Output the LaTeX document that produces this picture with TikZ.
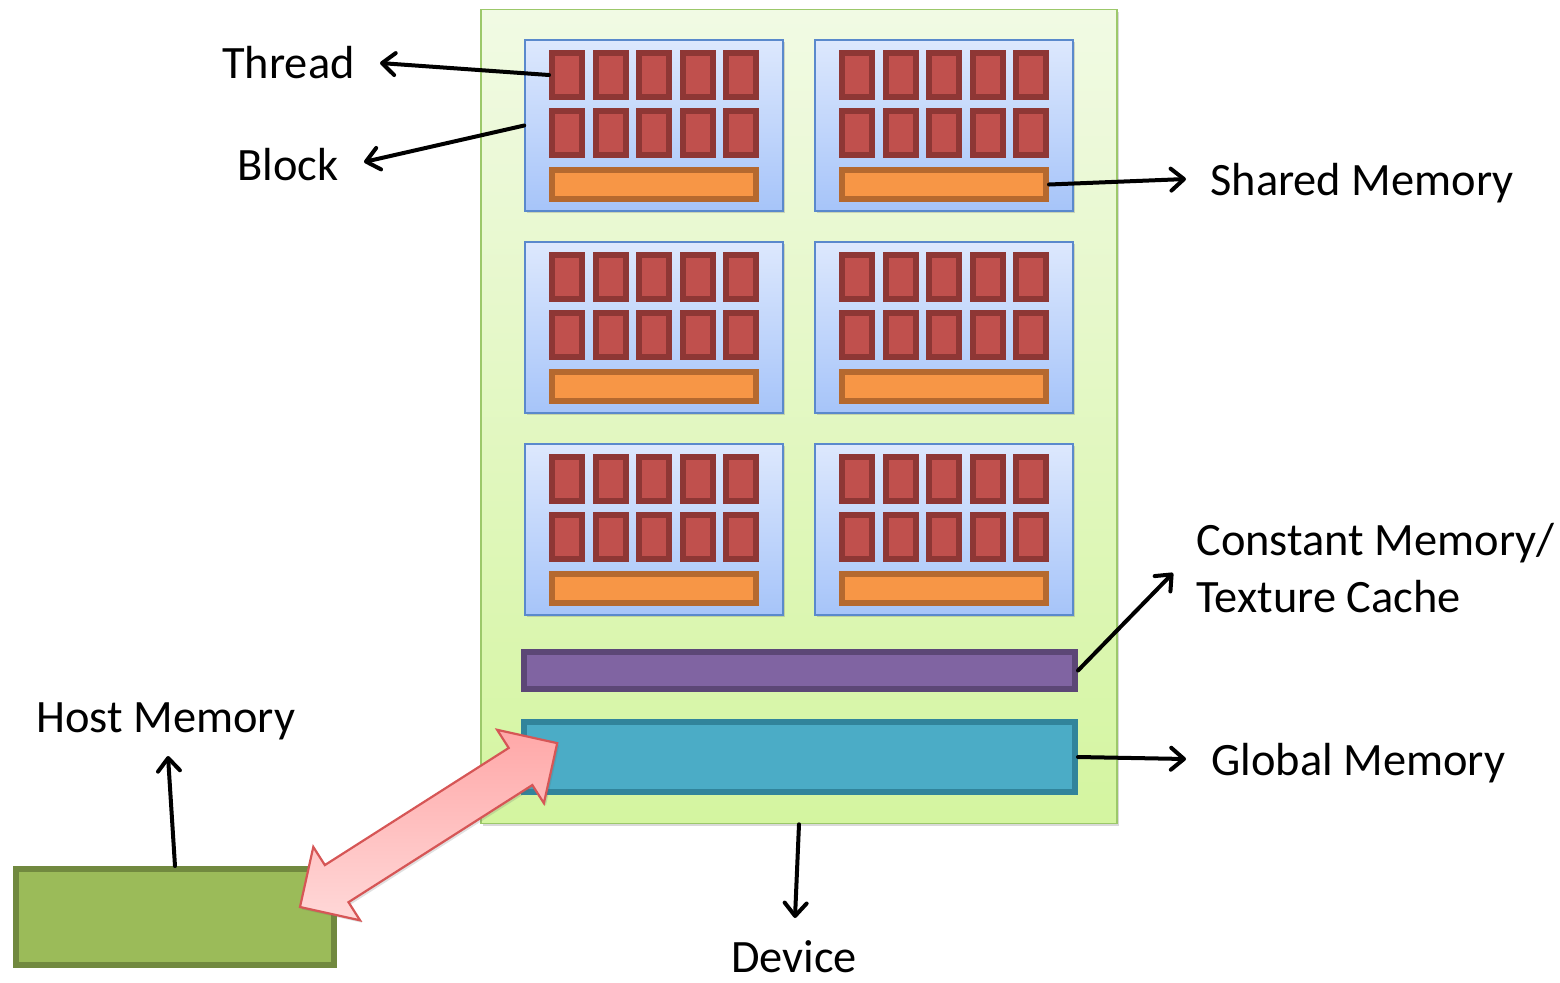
\documentclass[tikz,border=0pt]{standalone}
\usepackage{fontspec}
\setmainfont{Carlito}
\usetikzlibrary{arrows.meta,shadows}

% palette
\definecolor{frameTop}{HTML}{F1FAE4}
\definecolor{frameBot}{HTML}{D4F5A0}
\definecolor{frameLine}{HTML}{9CC86A}
\definecolor{blkTop}{HTML}{DDE8FD}
\definecolor{blkBot}{HTML}{A6C4F9}
\definecolor{blkLine}{HTML}{5A89CC}
\definecolor{thrFill}{HTML}{C0504D}
\definecolor{thrLine}{HTML}{8E3735}
\definecolor{shmFill}{HTML}{F79646}
\definecolor{shmLine}{HTML}{B5692F}
\definecolor{cstFill}{HTML}{8064A2}
\definecolor{cstLine}{HTML}{5C4776}
\definecolor{glbFill}{HTML}{4BACC6}
\definecolor{glbLine}{HTML}{31849B}
\definecolor{hstFill}{HTML}{9BBB59}
\definecolor{hstLine}{HTML}{71893F}
\definecolor{pinkTop}{HTML}{FFA8A8}
\definecolor{pinkBot}{HTML}{FFD8D8}
\definecolor{pinkLine}{HTML}{D65656}

\begin{document}
\begin{tikzpicture}[x=0.5pt,y=-0.5pt,
  softshadow/.style={drop shadow={shadow xshift=1pt,shadow yshift=-1.2pt,opacity=0.25,fill=black!60}},
  lbl/.style={font=\fontsize{23.2}{28.5}\selectfont, inner sep=0pt, text=black},
  ptr/.style={line width=2pt, line cap=round, -{Straight Barb[length=6.5pt,width=11pt,round]}},
  devframe/.style={draw=frameLine, line width=0.8pt, top color=frameTop, bottom color=frameBot,
    minimum width=318pt, minimum height=407pt, inner sep=0pt, softshadow},
  blockbox/.style={draw=blkLine, line width=0.8pt, top color=blkTop, bottom color=blkBot,
    minimum width=129pt, minimum height=85.5pt, inner sep=0pt, softshadow},
  cell/.style={draw=thrLine, fill=thrFill, line width=3pt, minimum width=15pt,
    minimum height=22pt, inner sep=0pt},
  shmbar/.style={draw=shmLine, fill=shmFill, line width=3pt, minimum width=102pt,
    minimum height=14.5pt, inner sep=0pt},
  membar/.style={line width=3pt, minimum width=275.5pt, inner sep=0pt, softshadow}
]
\useasboundingbox (0,0) rectangle (1560,982);

% device frame
\node[devframe] (dev) at (799,416.5) {};

% blocks of threads with their shared memory
\foreach \r in {1,2,3} {
  \foreach \c in {1,2} {
    \pgfmathsetmacro\xo{524+290*(\c-1)}
    \pgfmathsetmacro\yo{39+202*(\r-1)}
    \node[blockbox] (b-\r-\c) at (\xo+130,\yo+86.5) {};
    \foreach \j in {1,2} {
      \foreach \i in {1,...,5} {
        \node[cell] (t-\r-\c-\j-\i) at ({\xo+43+43.5*(\i-1)},{\yo+36+58*(\j-1)}) {};
      }
    }
    \node[shmbar] (sm-\r-\c) at (\xo+130,\yo+145.5) {};
  }
}

% constant memory / texture cache and global memory
\node[membar, draw=cstLine, fill=cstFill, minimum height=18.5pt] (cmem) at (799.5,670.5) {};
\node[membar, draw=glbLine, fill=glbFill, minimum height=35pt] (gmem) at (799.5,757) {};

% host memory
\node[draw=hstLine, fill=hstFill, line width=3pt, minimum width=159pt, minimum height=48pt,
      inner sep=0pt, softshadow] (host) at (175,917) {};

% host <-> global memory transfer (fat double arrow)
\coordinate (pcHost) at (300,907);
\coordinate (pcGlob) at (557,743);
\begin{scope}[shift={(pcHost)}, rotate=32.5]
  \draw[draw=pinkLine, line width=1.1pt, top color=pinkTop, bottom color=pinkBot, line join=miter,
        drop shadow={shadow xshift=1pt,shadow yshift=-1.2pt,opacity=0.2,fill=black!60}]
    (0,0) -- (43.5,-43.5) -- (43.5,-22) -- (261.5,-22) -- (261.5,-43.5) -- (305,0)
    -- (261.5,43.5) -- (261.5,22) -- (43.5,22) -- (43.5,43.5) -- cycle;
\end{scope}

% labels
\node[lbl, anchor=base east] (thread) at (355,78) {Thread};
\node[lbl, anchor=base] (block) at (288,180) {Block};
\node[lbl, anchor=base west] (shared) at (1210,195) {Shared Memory};
\node[lbl, anchor=west, align=left] (const) at (1196,568) {Constant Memory/\\Texture Cache};
\node[lbl, anchor=base west] (global) at (1211,775) {Global Memory};
\node[lbl, anchor=base] (devlbl) at (794,972) {Device};
\node[lbl, anchor=base west] (hostlbl) at (36,732) {Host Memory};

% pointer tips
\coordinate (thrTip) at (380,63);
\coordinate (blkTip) at (364,162);
\coordinate (smTip) at (1186,179);
\coordinate (cmTip) at (1173,573);
\coordinate (gmTip) at (1186,759);
\coordinate (devTip) at (795,918);
\coordinate (hostTip) at (168,756);

% pointers
\draw[ptr] (t-1-1-1-1.west) -- (thrTip);
\draw[ptr] (b-1-1.west) -- (blkTip);
\draw[ptr] (sm-1-2.east) -- (smTip);
\draw[ptr] (cmem.east) -- (cmTip);
\draw[ptr] (gmem.east) -- (gmTip);
\draw[ptr] (dev.south) -- (devTip);
\draw[ptr] (host.north) -- (hostTip);
\end{tikzpicture}
\end{document}
